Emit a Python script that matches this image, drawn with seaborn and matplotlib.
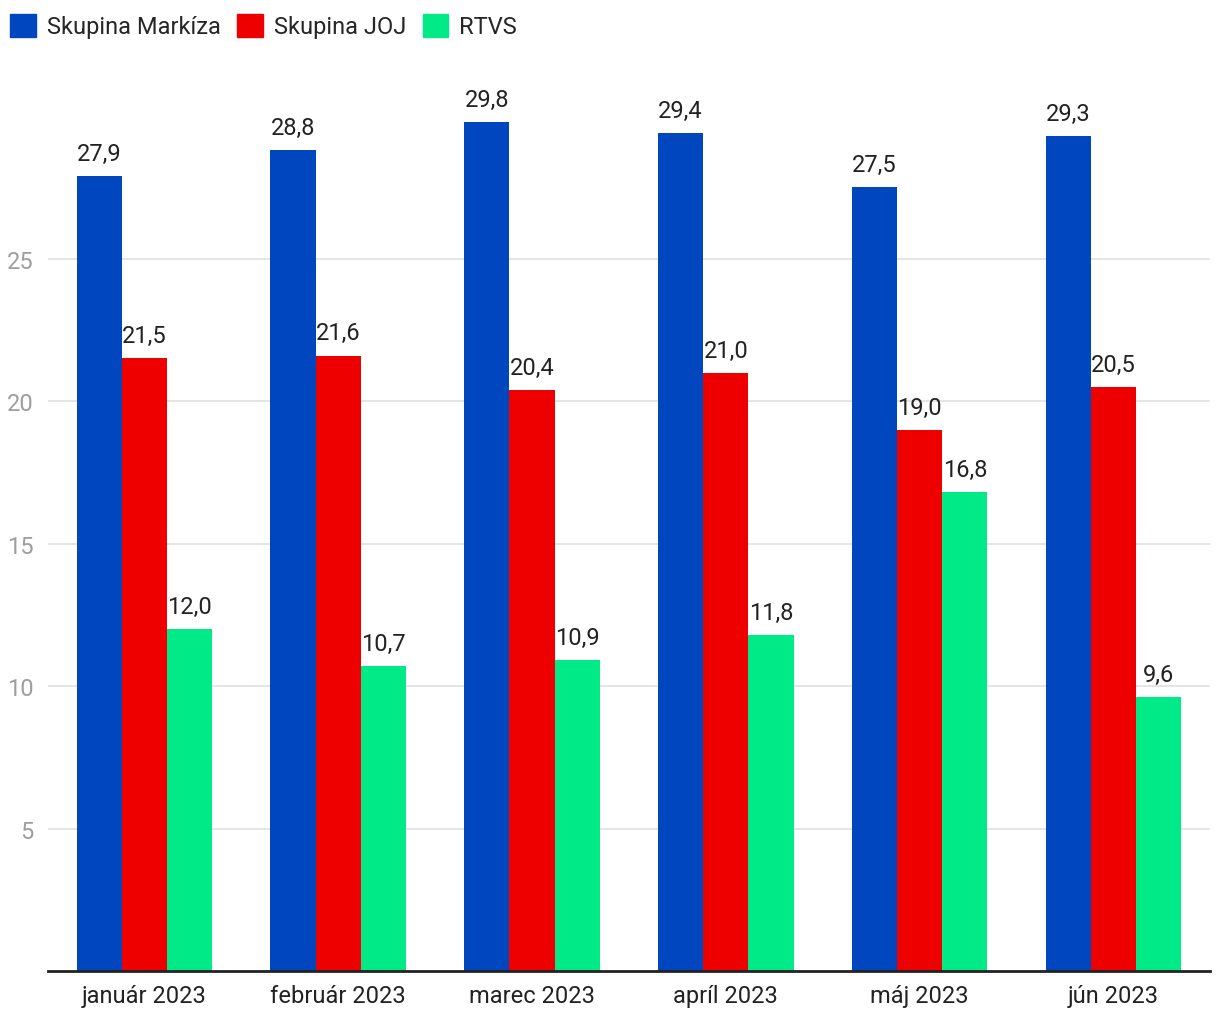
import pandas as pd
import numpy as np
import matplotlib
matplotlib.use('Agg')
import matplotlib.pyplot as plt
import seaborn as sns

# Monthly share data
months = ['január 2023', 'február 2023', 'marec 2023', 'apríl 2023', 'máj 2023', 'jún 2023']
series = ['Skupina Markíza', 'Skupina JOJ', 'RTVS']
markiza = [27.9, 28.8, 29.8, 29.4, 27.5, 29.3]
joj = [21.5, 21.6, 20.4, 21.0, 19.0, 20.5]
rtvs = [12.0, 10.7, 10.9, 11.8, 16.8, 9.6]
colors = ['#0046BE', '#EE0000', '#00EB88']

df = pd.DataFrame({
    'month': months * 3,
    'group': [series[0]] * 6 + [series[1]] * 6 + [series[2]] * 6,
    'value': markiza + joj + rtvs,
})

sns.set_style('white')
plt.rcParams['font.family'] = ['Roboto', 'DejaVu Sans']

fig = plt.figure(figsize=(12.2, 10.2), dpi=100)
ax = fig.add_axes([0.039, 0.047, 0.953, 0.894])

sns.barplot(data=df, x='month', y='value', hue='group', palette=colors,
            width=0.7, saturation=1, linewidth=0, ax=ax, legend=False)

# value labels with decimal comma
for cont in ax.containers:
    ax.bar_label(cont, labels=[f'{v:.1f}'.replace('.', ',') for v in cont.datavalues],
                 padding=8, fontsize=17, color='#222222')

ax.set_ylim(0, 32.0)
ax.set_xlim(-0.5, 5.5)
ax.set_yticks([5, 10, 15, 20, 25])
ax.yaxis.grid(True, color='#e0e0e0', linewidth=1.2)
ax.set_axisbelow(True)
ax.set_xlabel('')
ax.set_ylabel('')
ax.tick_params(axis='y', labelsize=17, labelcolor='#9e9e9e', length=0, pad=10)
ax.tick_params(axis='x', labelsize=17, labelcolor='#222222', length=0, pad=9)
for s in ['top', 'right', 'left']:
    ax.spines[s].set_visible(False)
ax.spines['bottom'].set_color('#222222')
ax.spines['bottom'].set_linewidth(2)

handles = [plt.Rectangle((0, 0), 1, 1, color=c) for c in colors]
fig.legend(handles, series, loc='upper left', bbox_to_anchor=(10 / 1220, 1 - 15 / 1020), ncol=3,
           frameon=False, fontsize=17, handlelength=1.1, handleheight=1.1,
           handletextpad=0.45, columnspacing=0.7, borderaxespad=0, borderpad=0)

fig.savefig('out.png', dpi=100)
